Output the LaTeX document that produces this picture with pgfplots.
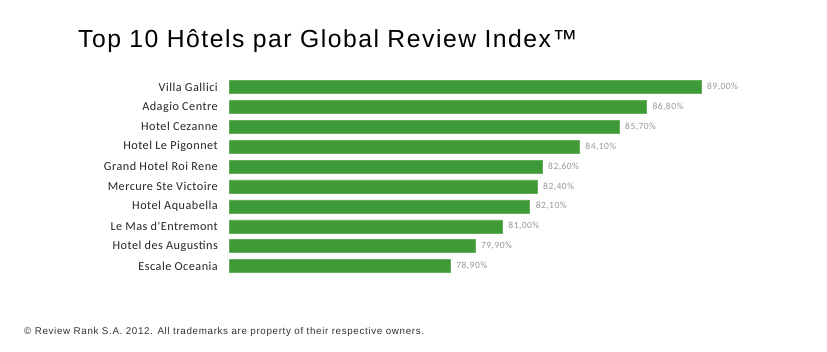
\documentclass[border=0pt]{standalone}
\usepackage{pgfplots}
\pgfplotsset{compat=1.18}
\usepackage{fontspec}
\setmainfont{Liberation Sans}
\newfontfamily\titlefont[LetterSpace=6.2]{Liberation Sans}
\newfontfamily\footfont[LetterSpace=6.8]{Liberation Sans}
\newfontfamily\calfont[LetterSpace=4.0]{Carlito}
\newfontfamily\numfont[LetterSpace=5]{Carlito}
\definecolor{bargreen}{RGB}{62,154,54}
\definecolor{labgray}{RGB}{150,150,150}
\begin{document}
\begin{tikzpicture}
\useasboundingbox[fill=white] (0pt,0pt) rectangle (827pt,351pt);
\node[anchor=base west, inner sep=0pt, font=\titlefont\fontsize{24.7}{25}\selectfont] at (78pt,303.5pt) {Top 10 Hôtels par Global Review Index™};
\node[anchor=base west, inner sep=0pt, font=\footfont\fontsize{9.8}{10}\selectfont, text=black!80] at (24pt,17pt) {© Review Rank S.A. 2012. All trademarks are property of their respective owners.};
\begin{axis}[
  at={(229pt,75pt)}, anchor=south west,
  scale only axis, width=472pt, height=199pt,
  xmin=70, xmax=89, ymin=-0.5, ymax=9.5,
  y dir=reverse,
  xbar, bar width=13pt,
  axis line style={draw=none},
  major tick length=0pt,
  xtick=\empty,
  ytick={0,...,9},
  yticklabels={Villa Gallici, Adagio Centre, Hotel Cezanne, Hotel Le Pigonnet, Grand Hotel Roi Rene, Mercure Ste Victoire, Hotel Aquabella, Le Mas d'Entremont, Hotel des Augustins, Escale Oceania},
  yticklabel style={font=\calfont\fontsize{12.2}{12}\selectfont, inner sep=0pt, text=black!85},
  yticklabel shift=11pt,
  clip=false,
  nodes near coords={\pgfmathprintnumber[fixed,zerofill,precision=2,use comma,assume math mode=true]{\pgfplotspointmeta}\%},
  nodes near coords style={anchor=west, inner sep=0pt, xshift=6pt, font=\numfont\fontsize{9.5}{9.5}\selectfont, text=labgray},
]
\addplot[fill=bargreen, draw=bargreen!80!white] coordinates {
(89.0,0) (86.8,1) (85.7,2) (84.1,3) (82.6,4) (82.4,5) (82.1,6) (81.0,7) (79.9,8) (78.9,9)
};
\end{axis}
\end{tikzpicture}
\end{document}
